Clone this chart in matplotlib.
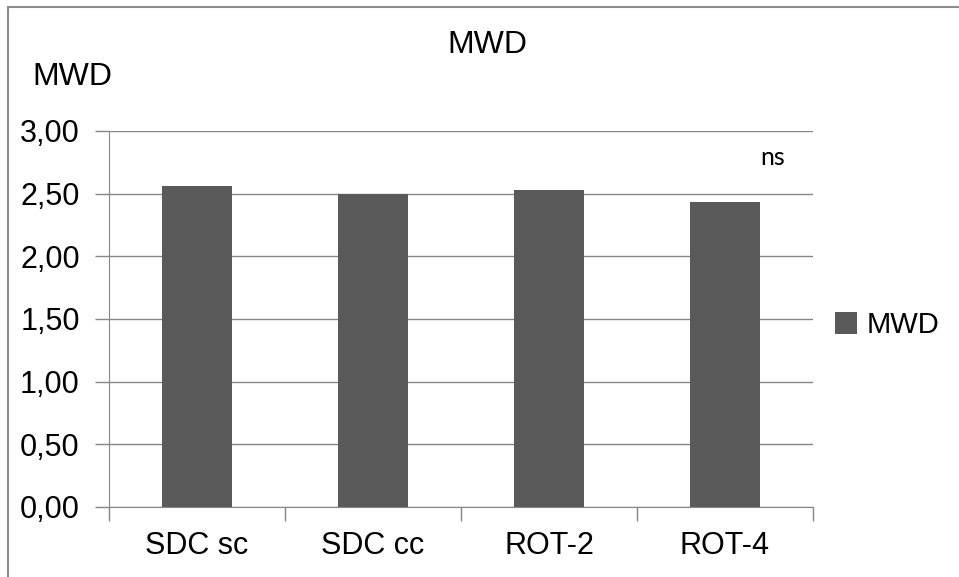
"""MWD bar chart recreation."""
import numpy as np
import matplotlib.pyplot as plt
from matplotlib.patches import Rectangle
from matplotlib.ticker import FixedLocator, FuncFormatter

plt.rcParams["font.family"] = ["Liberation Sans", "DejaVu Sans"]

categories = ["SDC sc", "SDC cc", "ROT-2", "ROT-4"]
mwd = [2.56, 2.50, 2.53, 2.43]
yticks = [0.0, 0.5, 1.0, 1.5, 2.0, 2.5, 3.0]
series_name = "MWD"
note = "ns"

GRID = "#868686"
BAR = "#595959"

fig = plt.figure(figsize=(9.59, 5.77), dpi=100)
ax = fig.add_axes([109 / 959, 1 - 507 / 577, 704 / 959, 376 / 577])

x = np.arange(len(categories))
ax.bar(x, mwd, width=0.4, color=BAR, label=series_name, zorder=3)

ax.set_xlim(-0.5, len(categories) - 0.5)
ax.set_ylim(0, 3)
ax.set_yticks(yticks)
ax.yaxis.set_major_formatter(FuncFormatter(lambda v, p: f"{v:.2f}".replace(".", ",")))
ax.set_xticks(x)
ax.set_xticklabels(categories)
ax.xaxis.set_minor_locator(FixedLocator(np.arange(len(categories) + 1) - 0.5))
ax.tick_params(axis="x", which="major", length=0, pad=17, labelsize=22)
ax.tick_params(axis="x", which="minor", length=10, color=GRID, width=1)
ax.tick_params(axis="y", length=10, color=GRID, width=1, labelsize=22, pad=11)

ax.grid(axis="y", color=GRID, linewidth=1, zorder=0)
for s in ["top", "right"]:
    ax.spines[s].set_visible(False)
for s in ["left", "bottom"]:
    ax.spines[s].set_color(GRID)
    ax.spines[s].set_zorder(4)

ax.text(3.27, 2.79, note, fontsize=18, ha="center", va="center",
        family=["Lato", "DejaVu Sans"])

fig.text(487 / 959, 1 - 45 / 577, "MWD", fontsize=23, ha="center", va="center")
fig.text(72 / 959, 1 - 77 / 577, "MWD", fontsize=23, ha="center", va="center")

ax.legend(loc="center left", bbox_to_anchor=(835 / 959, 1 - 325 / 577),
          bbox_transform=fig.transFigure, frameon=False, fontsize=21,
          handlelength=0.75, handleheight=0.75, handletextpad=0.35,
          borderpad=0, borderaxespad=0)

# outer chart frame (left and top edges visible)
fig.patches.append(Rectangle((8 / 959, -0.1), 1.2, 1 - 7 / 577 + 0.1,
                             transform=fig.transFigure, fill=False,
                             edgecolor="#8c8c8c", linewidth=1.5))

fig.savefig("out.png", dpi=100)
